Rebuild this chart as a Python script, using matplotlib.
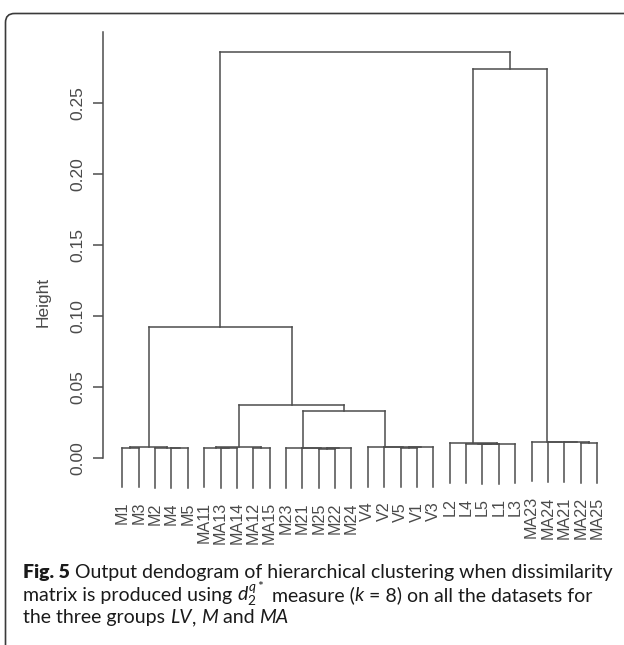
import matplotlib
matplotlib.use("Agg")
import matplotlib.pyplot as plt
from matplotlib.collections import LineCollection
from matplotlib.patches import FancyBboxPatch

# ---- data -------------------------------------------------------------
leaf_labels = ["M1", "M3", "M2", "M4", "M5",
               "MA11", "MA13", "MA14", "MA12", "MA15",
               "M23", "M21", "M25", "M22", "M24",
               "V4", "V2", "V5", "V1", "V3",
               "L2", "L4", "L5", "L1", "L3",
               "MA23", "MA24", "MA21", "MA22", "MA25"]

# merge table (hclust style): a child is a leaf name or "#k" for merge k
merge_left = ["M4", "M2", "M1", "#2",
              "MA13", "MA11", "MA12", "#5",
              "M25", "#8", "M21", "M23",
              "V5", "#12", "V2", "V4",
              "#11", "#7", "#3",
              "L5", "L4", "#20", "L2",
              "MA22", "MA21", "MA24", "MA23",
              "#22", "#18"]
merge_right = ["M5", "#0", "M3", "#1",
               "MA14", "#4", "MA15", "#6",
               "M22", "M24", "#9", "#10",
               "V1", "V3", "#13", "#14",
               "#15", "#16", "#17",
               "L1", "#19", "L3", "#21",
               "MA25", "#23", "#24", "#25",
               "#26", "#27"]
merge_height = [0.0072, 0.0073, 0.0074, 0.0076,
                0.0072, 0.0074, 0.0073, 0.0076,
                0.0068, 0.0070, 0.0071, 0.0073,
                0.0074, 0.0076, 0.0077, 0.0079,
                0.0333, 0.0377, 0.0925,
                0.0100, 0.0103, 0.0104, 0.0105,
                0.0108, 0.0112, 0.0114, 0.0116,
                0.2737, 0.2858]

y_ticks = [0.00, 0.05, 0.10, 0.15, 0.20, 0.25]
y_ticklabels = ["0.00", "0.05", "0.10", "0.15", "0.20", "0.25"]

# ---- figure -----------------------------------------------------------
W, H, DPI = 624, 645, 100
fig = plt.figure(figsize=(W / DPI, H / DPI), dpi=DPI)
fig.patch.set_facecolor("white")

# full-figure overlay in pixel units for frame and caption
bg = fig.add_axes([0, 0, 1, 1], zorder=0)
bg.set_xlim(0, W)
bg.set_ylim(H, 0)
bg.axis("off")
frame = FancyBboxPatch((5.5, 13.5), 640, 660,
                       boxstyle="round,pad=0,rounding_size=9",
                       fc="none", ec="#3a3a3a", lw=1.2)
bg.add_patch(frame)

# dendrogram axes
x_left_px, x_right_px = 102.7, 615.0
y_top_px, y_bot_px = 32.0, 540.0
ax = fig.add_axes([x_left_px / W, 1 - y_bot_px / H,
                   (x_right_px - x_left_px) / W, (y_bot_px - y_top_px) / H],
                  zorder=1)
ax.patch.set_alpha(0)
ax.set_xlim(-1.197, -1.197 + (x_right_px - x_left_px) / 16.37)
ax.set_ylim(-(y_bot_px - 458.3) / 1422.0, (458.3 - y_top_px) / 1422.0)

line_color = "#4d4d4d"
text_color = "#4a4a4a"

hang = 0.1 * (max(merge_height) - min(merge_height))
leaf_index = {name: i for i, name in enumerate(leaf_labels)}

node_x, node_y = [], []
segments = []
leaf_bottom = {}


def child_pos(c, parent_h):
    if c.startswith("#"):
        k = int(c[1:])
        return node_x[k], node_y[k]
    leaf_bottom[c] = parent_h - hang
    return float(leaf_index[c]), parent_h - hang


for a, b, h in zip(merge_left, merge_right, merge_height):
    xa, ya = child_pos(a, h)
    xb, yb = child_pos(b, h)
    segments.append([(xa, ya), (xa, h)])
    segments.append([(xb, yb), (xb, h)])
    segments.append([(xa, h), (xb, h)])
    node_x.append((xa + xb) / 2)
    node_y.append(h)

ax.add_collection(LineCollection(segments, colors=line_color, linewidths=1.1,
                                 capstyle="projecting"))

for name in leaf_labels:
    ax.annotate(name, xy=(leaf_index[name], leaf_bottom[name]),
                xytext=(0, -14.5), textcoords="offset pixels",
                rotation=90, ha="center", va="top",
                fontsize=11.6, color=text_color, family="Liberation Sans",
                annotation_clip=False)

for side in ("top", "right", "bottom"):
    ax.spines[side].set_visible(False)
ax.spines["left"].set_bounds(0.0, 0.2996)
ax.spines["left"].set_color(line_color)
ax.spines["left"].set_linewidth(1.1)
ax.set_xticks([])
ax.set_yticks(y_ticks)
ax.set_yticklabels(y_ticklabels)
ax.tick_params(axis="y", length=7.2, width=1.1, color=line_color, pad=5.0,
               labelsize=12.5, labelcolor=text_color)
for lab in ax.get_yticklabels():
    lab.set_rotation(90)
    lab.set_va("center")
    lab.set_ha("right")
    lab.set_family("Liberation Sans")

bg.text(43, 302, "Height", rotation=90, ha="center", va="center",
        fontsize=12.5, color=text_color, family="Liberation Sans")

# ---- caption ----------------------------------------------------------
plt.rcParams["mathtext.fontset"] = "custom"
plt.rcParams["mathtext.rm"] = "Lato"
plt.rcParams["mathtext.it"] = "Lato:italic"
plt.rcParams["mathtext.bf"] = "Lato:bold"

cap_size = 14.0
cap_color = "#1a1a1a"
renderer = fig.canvas.get_renderer()


def text_width(s, **kw):
    t = bg.text(0, 0, s + "|", fontsize=cap_size, family="Lato", **kw)
    w1 = t.get_window_extent(renderer).width
    t.remove()
    t = bg.text(0, 0, "|", fontsize=cap_size, family="Lato", **kw)
    w2 = t.get_window_extent(renderer).width
    t.remove()
    return w1 - w2


def draw_runs(x, y, runs):
    for s, kw in runs:
        bg.text(x, y, s, fontsize=cap_size, family="Lato", color=cap_color,
                va="baseline", ha="left", **kw)
        x += text_width(s, **kw)


REG = {}
BOLD = {"fontweight": "heavy"}
ITAL = {"fontstyle": "italic"}

draw_runs(23, 578, [("Fig. 5", BOLD),
                    (" Output dendogram of hierarchical clustering when dissimilarity", REG)])
draw_runs(23, 601, [("matrix is produced using ", REG),
                    (r"$d_2^{q*}$", REG),
                    (" measure (", REG),
                    ("k", ITAL),
                    (" = 8) on all the datasets for", REG)])
draw_runs(23, 623, [("the three groups ", REG),
                    ("LV", ITAL),
                    (", ", REG),
                    ("M", ITAL),
                    (" and ", REG),
                    ("MA", ITAL)])

fig.savefig("out.png", dpi=DPI, facecolor="white")
